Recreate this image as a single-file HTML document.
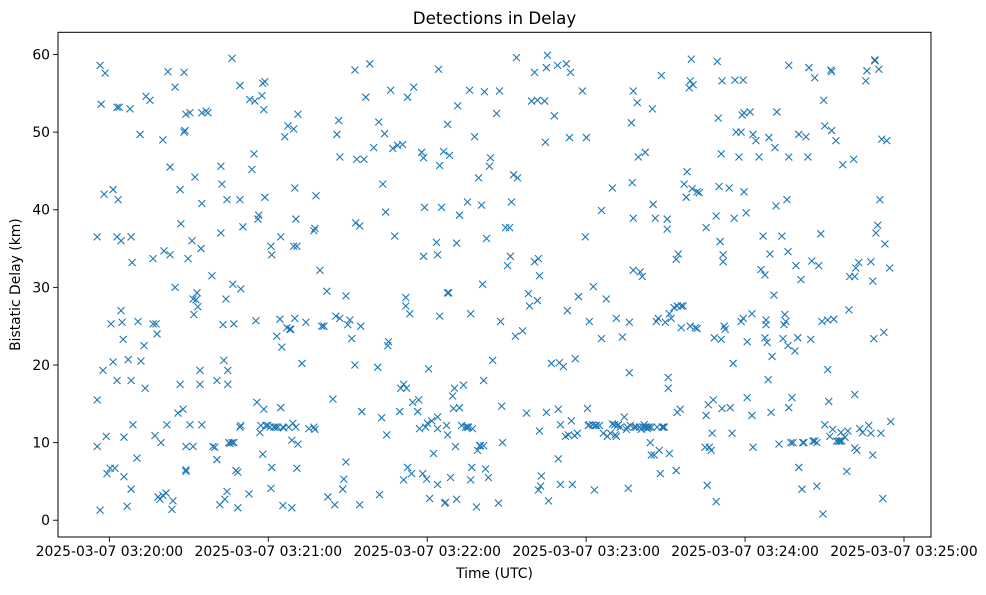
<!DOCTYPE html>
<html><head><meta charset="utf-8"><style>
html,body{margin:0;padding:0;background:#fff;}
svg text{font-family:"DejaVu Sans","Liberation Sans",sans-serif;fill:#000;}
</style></head><body>
<svg id="chart" width="986" height="590" viewBox="0 0 986 590">
<rect x="0" y="0" width="986" height="590" fill="#fff"/>
<text x="494.5" y="24" font-size="16.7" text-anchor="middle">Detections in Delay</text>
<g id="marks"></g>
<g id="xaxis"></g>
<g id="yaxis"></g>
<rect x="58" y="32.3" width="873" height="504.7" fill="none" stroke="#000" stroke-width="1"/>
<text x="494.5" y="578" font-size="13.9" text-anchor="middle">Time (UTC)</text>
<text x="20" y="284.6" font-size="13.9" text-anchor="middle" transform="rotate(-90 20 284.6)">Bistatic Delay (km)</text>
</svg>
<script>
// seconds after 2025-03-07 03:20:00 UTC, bistatic delay km
const detections = [
[-4.6,9.5],[-4.6,15.5],[-4.6,36.5],[-3.5,58.6],[-3.1,53.6],[-3.5,1.3],[-2.4,19.3],[-1.6,57.6],[-2.0,42],[-1.2,10.8],[-0.9,6],[0.3,6.7],[1.4,42.6],[0.6,25.3],[1.4,20.4],[2.1,6.7],[2.9,36.5],[2.9,53.2],[3.7,53.2],[2.9,18],[3.3,41.3],[4.4,27],[4.4,36],[4.8,25.5],[5.2,23.3],[5.5,10.7],[5.5,5.6],[6.7,1.8],[7.1,20.7],[8.2,18],[8.2,4],[7.8,53],[8.2,36.5],[8.6,33.2],[8.9,12.3],[10.4,8],[10.8,25.6],[11.6,49.7],[11.9,20.5],[13.1,22.5],[13.5,17],[13.8,54.6],[15.3,54.1],[16.5,33.7],[16.5,25.3],[17.2,10.9],[17.6,25.3],[18.0,24],[18.4,3],[19.1,2.7],[19.5,10],[20.2,49],[20.2,3.2],[20.6,34.7],[21.4,3.5],[21.7,12.3],[22.1,57.8],[22.9,34.2],[22.9,45.5],[23.6,1.4],[24.0,2.5],[24.8,30],[24.8,55.8],[25.9,13.8],[26.7,17.5],[26.7,42.6],[27.0,38.2],[27.8,14.3],[28.2,57.7],[28.2,50],[28.9,6.5],[28.5,50.2],[28.9,52.3],[28.9,6.3],[28.9,9.5],[29.7,33.7],[30.4,52.5],[30.4,12.3],[31.2,36],[31.6,28.5],[31.6,9.5],[31.9,26.5],[32.3,44.2],[32.7,28.4],[33.1,29.3],[33.4,27.5],[34.2,19.3],[34.2,17.5],[34.9,12.3],[34.6,35],[34.9,52.5],[34.9,40.8],[36.5,52.7],[37.2,52.5],[38.7,31.5],[39.1,9.5],[39.8,9.4],[40.6,18],[40.6,7.8],[41.7,2],[42.1,45.6],[42.5,43.3],[42.1,37],[42.9,25.2],[43.2,20.6],[43.6,2.7],[44.0,28.5],[44.4,3.7],[44.4,41.3],[44.7,19.3],[44.7,17.5],[45.1,10],[45.5,9.9],[46.3,10],[46.6,30.4],[47.0,10],[47.0,25.3],[46.3,59.5],[47.8,6.4],[48.5,6.2],[48.5,1.6],[49.3,12],[49.3,41.3],[49.3,56],[49.6,29.8],[49.6,12.2],[50.4,37.8],[52.7,3.4],[53.0,54.2],[53.8,45.2],[54.6,47.2],[54.9,54],[55.3,25.7],[55.7,15.2],[56.1,38.8],[56.4,39.3],[56.8,11.3],[57.2,12.2],[57.6,54.7],[57.9,56.3],[57.9,8.5],[58.3,14.3],[58.3,52.9],[58.7,56.5],[58.7,41.6],[59.1,12.2],[59.8,12.2],[60.6,12],[61.0,4.1],[61.0,35.3],[61.3,6.8],[61.3,34.2],[62.1,12],[62.8,12],[63.2,23.7],[63.6,12],[64.4,25.9],[64.7,36.5],[64.7,14.5],[65.1,22.3],[65.5,12],[65.8,11.9],[65.5,1.9],[66.2,49.4],[67.0,24.8],[67.4,50.8],[67.7,12],[68.1,24.6],[68.5,24.6],[68.9,1.6],[68.9,10.3],[69.3,12.5],[69.6,50.4],[69.6,35.3],[70.0,42.8],[70.0,26],[70.4,38.8],[70.4,12],[70.8,6.7],[70.8,35.3],[71.2,52.3],[71.2,9.8],[72.7,20.2],[74.2,25.5],[75.3,11.8],[77.2,12],[77.6,11.7],[77.2,37.3],[77.6,37.6],[78.0,41.8],[79.5,32.2],[80.2,25],[81.0,25],[82.1,29.5],[82.5,3],[84.4,15.6],[85.1,2],[85.5,26.3],[85.9,49.7],[86.6,51.5],[87.0,46.8],[87.0,26],[88.1,4],[88.5,5.3],[89.3,28.9],[89.3,7.5],[90.0,25.2],[90.8,25.8],[91.5,23.4],[92.7,20],[92.7,58],[93.0,38.3],[93.4,46.5],[94.5,37.9],[94.5,2],[94.9,25],[95.3,14],[96.1,46.5],[96.8,54.5],[98.3,58.8],[99.8,48],[101.3,19.7],[101.7,51.3],[102.0,3.3],[102.8,13.2],[103.2,43.3],[103.9,49.8],[104.3,39.7],[104.7,11],[105.1,22.5],[105.4,23],[106.2,55.4],[107.0,47.9],[107.7,36.6],[108.8,48.3],[109.6,14],[110.0,17],[110.7,48.4],[111.1,17.5],[111.1,5.2],[111.9,28.7],[111.9,27.6],[112.2,17],[112.6,6.8],[112.6,54.5],[113.4,26.6],[114.1,6],[114.5,15.2],[114.9,55.8],[116.4,14],[116.8,15.5],[117.1,11.8],[117.9,47.4],[118.3,6],[118.6,34],[118.6,46.7],[119.0,40.3],[119.4,12],[119.8,5.3],[120.1,12.5],[120.5,19.5],[120.9,2.8],[121.7,12.8],[122.4,8.6],[123.5,35.8],[123.9,11.8],[123.9,13.3],[123.9,34.2],[123.9,4.6],[124.3,58.1],[124.7,45.7],[124.7,26.3],[125.4,40.3],[126.2,47.5],[126.6,2.2],[126.9,2.3],[127.3,12.2],[127.7,51],[127.7,11],[127.7,29.3],[128.1,29.3],[128.4,47],[128.8,5.5],[129.6,16],[129.9,14.4],[130.3,17],[130.7,9.5],[131.1,2.7],[131.1,35.7],[131.5,53.4],[132.2,14.5],[132.2,39.3],[133.0,12.2],[133.7,17.4],[134.5,12],[135.2,12],[135.2,41],[135.6,12],[136.0,55.4],[136.4,5.2],[136.4,26.6],[136.8,6.8],[137.1,11.8],[137.9,49.4],[138.6,1.7],[139.0,9],[139.4,44.1],[139.8,9.6],[140.1,9.6],[140.5,40.6],[140.9,30.4],[141.3,9.6],[141.3,18],[141.6,55.2],[142.0,6.6],[142.4,36.3],[143.1,5.5],[143.5,45.6],[143.9,46.7],[144.7,20.6],[146.2,52.4],[146.9,2.2],[147.3,55.3],[147.7,25.6],[148.1,14.7],[148.4,10],[149.6,37.7],[150.3,32.8],[151.1,37.7],[151.4,34],[151.8,41],[152.6,44.5],[153.3,23.7],[153.7,59.6],[154.1,44.1],[156.0,24.4],[157.5,13.8],[158.2,29.2],[158.6,27.6],[159.4,54],[160.5,57.7],[160.5,33.3],[161.6,28.3],[161.6,54.1],[162.0,3.9],[162.0,33.7],[162.4,11.5],[162.4,31.5],[162.8,4.4],[163.1,5.7],[164.3,54],[164.6,48.7],[165.0,13.9],[165.0,58.3],[165.4,59.9],[165.8,2.5],[166.9,20.2],[168.0,52.1],[169.2,58.6],[169.5,7.9],[169.5,14.3],[169.9,20.3],[170.3,12.3],[170.3,4.6],[171.4,19.8],[172.2,10.8],[172.5,58.8],[172.9,27],[173.3,11],[173.7,49.3],[174.1,57.7],[174.4,12.8],[174.8,4.6],[175.6,10.9],[175.9,20.8],[176.7,11.2],[177.1,28.8],[178.6,55.3],[179.7,36.5],[180.1,49.3],[180.5,14.4],[180.8,12.2],[181.2,25.6],[181.2,12.3],[182.4,12.3],[182.7,30.1],[183.1,3.9],[183.5,12.2],[183.9,12.2],[185.0,12.2],[185.8,23.4],[185.8,39.9],[186.5,11.2],[187.6,28.5],[188.0,10.8],[189.2,11.2],[189.9,42.8],[189.9,12.4],[190.7,12.3],[191.0,11],[191.4,26],[191.4,10.8],[191.8,12.2],[192.2,12.3],[192.9,12],[193.7,23.6],[194.4,13.3],[195.2,11.7],[195.6,12],[195.9,4.1],[196.3,25.5],[196.3,19],[196.7,12.2],[197.1,51.2],[197.4,43.5],[197.8,55.3],[197.8,38.9],[197.8,32.2],[198.2,12],[198.9,12],[199.3,53.8],[199.7,46.8],[200.1,12],[200.4,32],[200.8,11.7],[201.2,31.4],[201.6,12],[201.9,12.3],[202.3,47.4],[202.3,12],[202.7,12],[203.1,11.8],[203.5,12],[203.8,12],[204.2,10],[204.6,8.4],[204.6,12],[205.0,53],[205.3,40.7],[205.7,8.4],[206.1,38.9],[206.5,25.6],[206.8,12],[207.2,26],[207.6,9],[208.0,6],[208.4,57.3],[208.7,12],[209.1,12],[209.5,12],[209.9,25.5],[210.6,38.8],[210.6,37.5],[211.0,18.4],[211.0,17],[211.4,26.6],[211.4,8.6],[212.1,26],[213.2,27.4],[214.0,33.6],[214.0,6.4],[214.4,27.6],[214.4,13.9],[214.8,34.3],[215.5,14.3],[215.9,24.8],[215.9,27.6],[216.6,27.6],[217.0,43.3],[217.8,41.6],[218.1,44.9],[218.9,55.7],[219.3,56.6],[219.3,25],[219.7,59.4],[220.0,42.7],[220.4,56.1],[221.2,24.8],[221.9,24.7],[221.9,42.3],[222.7,42.2],[224.9,9.4],[225.3,37.7],[225.7,4.5],[225.3,13.5],[226.1,14.9],[226.5,9.4],[227.2,9],[227.6,11.2],[228.0,15.5],[228.4,23.5],[229.1,39.2],[229.1,2.4],[229.5,59.1],[229.9,51.8],[230.2,43],[230.6,35.9],[231.0,47.2],[231.0,23.3],[231.3,56.6],[231.3,14.4],[231.7,34.2],[231.7,33.3],[232.1,25],[232.5,24.6],[234.0,42.8],[234.4,14.5],[235.1,11.2],[235.5,20.2],[235.9,38.9],[236.2,56.7],[236.6,50],[237.7,46.8],[238.5,25.6],[238.5,50],[238.9,52.2],[239.3,56.7],[239.3,26],[239.6,42.3],[239.6,52.5],[240.4,39.6],[240.8,15.8],[240.8,23],[241.9,52.6],[242.6,13.5],[242.6,26.6],[243.0,9.4],[243.0,49.7],[244.1,48.9],[245.3,46.8],[246.0,32.3],[246.8,36.6],[247.5,31.6],[247.5,23.5],[247.9,25.2],[247.9,25.8],[248.3,22.9],[248.7,18.1],[249.0,49.3],[249.4,34.3],[249.8,13.9],[250.2,21.1],[250.9,29],[251.3,48],[251.7,40.5],[252.0,52.6],[252.8,9.8],[253.9,36.6],[254.3,23.4],[254.7,25.2],[255.0,26.5],[255.4,25.6],[255.8,41.3],[256.2,22.5],[256.2,34.6],[256.5,46.8],[256.5,58.6],[256.5,14.5],[257.3,10],[257.7,15.8],[258.1,10],[258.8,21.8],[259.2,32.8],[259.9,23.5],[260.3,49.7],[260.3,6.8],[261.1,31],[261.5,4],[261.8,10],[262.2,10],[263.0,49.4],[263.7,46.8],[264.1,58.3],[264.8,23.3],[265.2,33.4],[265.6,10.2],[266.3,57],[266.3,10.2],[267.1,4.4],[267.1,10],[267.8,32.8],[268.6,36.9],[269.0,25.6],[269.4,0.8],[269.7,54.1],[270.1,50.8],[270.1,12.3],[271.2,19.4],[271.2,25.8],[271.6,15.3],[272.0,10.8],[272.4,58],[272.7,57.8],[272.7,50.2],[273.1,11.7],[273.5,25.9],[274.3,48.9],[274.6,10.2],[275.4,10.2],[275.8,10.2],[276.2,11.3],[276.5,10.2],[276.9,45.8],[277.7,10.7],[278.4,6.3],[278.8,11.5],[279.2,27.1],[279.5,31.4],[281.0,46.5],[281.4,31.4],[281.4,9.3],[281.4,16.2],[281.8,32.5],[282.2,9],[282.9,33.2],[283.3,11.8],[284.4,11.3],[285.6,56.6],[286.0,57.9],[286.7,12.2],[287.5,33.3],[287.5,11.2],[288.2,8.4],[288.2,30.8],[288.6,23.4],[289.0,59.3],[289.0,59.2],[289.4,37],[290.1,38],[290.5,58.1],[290.9,41.3],[291.3,11.2],[291.6,49.1],[292.0,2.8],[292.4,24.2],[292.8,35.6],[293.5,48.9],[294.6,32.5],[295.0,12.7]
];
const yTicks = [0,10,20,30,40,50,60];
const xTickSeconds = [0,60,120,180,240,300];
const xTickLabels = ["2025-03-07 03:20:00","2025-03-07 03:21:00","2025-03-07 03:22:00","2025-03-07 03:23:00","2025-03-07 03:24:00","2025-03-07 03:25:00"];

const X0=58, X1=931, Y0=537, Y1=32.3;
const xMin=-19.4, xMax=310.2, yMin=-2.16, yMax=62.86;
function xs(v){return X0+(v-xMin)/(xMax-xMin)*(X1-X0);}
function ys(v){return Y0-(v-yMin)/(yMax-yMin)*(Y0-Y1);}
const NS="http://www.w3.org/2000/svg";
const marks=document.getElementById('marks');
detections.forEach(function(d,i){
  const cx=xs(d[0]), cy=ys(d[1]), r=3.5;
  const p=document.createElementNS(NS,'path');
  p.setAttribute('d','M'+(cx-r)+' '+(cy-r)+'L'+(cx+r)+' '+(cy+r)+'M'+(cx-r)+' '+(cy+r)+'L'+(cx+r)+' '+(cy-r));
  p.setAttribute('stroke','#1f77b4');
  p.setAttribute('stroke-width','1.1');
  p.setAttribute('fill','none');
  
  
  marks.appendChild(p);
});
const xa=document.getElementById('xaxis');
xTickSeconds.forEach(function(s,i){
  const x=xs(s);
  const l=document.createElementNS(NS,'line');
  l.setAttribute('x1',x);l.setAttribute('x2',x);l.setAttribute('y1',Y0);l.setAttribute('y2',Y0+4.9);
  l.setAttribute('stroke','#000');l.setAttribute('stroke-width','0.9');
  
  
  xa.appendChild(l);
  const t=document.createElementNS(NS,'text');
  t.setAttribute('x',x);t.setAttribute('y',556);t.setAttribute('font-size','13.9');t.setAttribute('text-anchor','middle');
  t.textContent=xTickLabels[i];
  
  
  xa.appendChild(t);
});
const ya=document.getElementById('yaxis');
yTicks.forEach(function(v){
  const y=ys(v);
  const l=document.createElementNS(NS,'line');
  l.setAttribute('x1',X0-4.9);l.setAttribute('x2',X0);l.setAttribute('y1',y);l.setAttribute('y2',y);
  l.setAttribute('stroke','#000');l.setAttribute('stroke-width','0.9');
  
  
  ya.appendChild(l);
  const t=document.createElementNS(NS,'text');
  t.setAttribute('x',X0-8);t.setAttribute('y',y+5);t.setAttribute('font-size','13.9');t.setAttribute('text-anchor','end');
  t.textContent=String(v);
  
  
  ya.appendChild(t);
});
</script>
</body></html>
